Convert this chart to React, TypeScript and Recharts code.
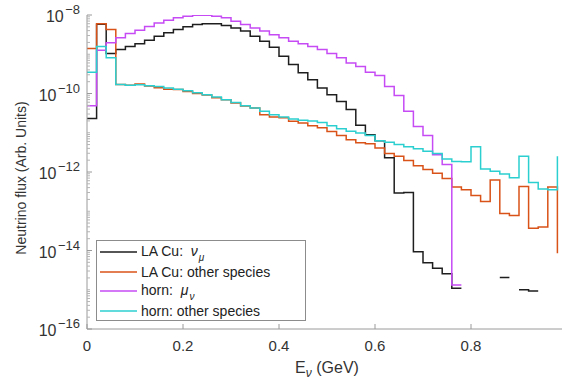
import React from 'react';
import { LineChart, Line, XAxis, YAxis, Legend } from 'recharts';

// Histogram bins: 0.02 GeV wide, left edges 0 ... 0.98 GeV
const binWidthGeV = 0.02;

// LA Cu: nu_mu
const laCuNuMu: (number | null)[] = [
  2.3e-11, 5.8e-9, 1.05e-9, 1.32e-9, 1.58e-9, 1.86e-9, 2.29e-9, 2.88e-9, 3.55e-9, 4.27e-9,
  5.0e-9, 5.75e-9, 6.0e-9, 6.0e-9, 5.37e-9, 4.68e-9, 3.89e-9, 2.88e-9, 2.14e-9, 1.51e-9,
  8.9e-10, 5.5e-10, 3.39e-10, 2.24e-10, 1.38e-10, 9.3e-11, 6.3e-11, 3.9e-11, 1.55e-11, 8.9e-12,
  6.3e-12, 2.3e-12, 2.9e-13, 3.0e-13, 9.3e-15, 4.9e-15, 3.55e-15, 2.57e-15, 1.1e-15, null,
  null, null, null, 2.04e-15, null, 1.0e-15, 9.3e-16, null, null, null,
];

// LA Cu: other species
const laCuOther: (number | null)[] = [
  1.41e-9, 6.0e-9, 4.27e-9, 1.7e-10, 1.62e-10, 1.74e-10, 1.55e-10, 1.41e-10, 1.29e-10, 1.26e-10,
  1.12e-10, 1.0e-10, 9.1e-11, 7.8e-11, 6.9e-11, 5.75e-11, 4.8e-11, 4.27e-11, 2.88e-11, 2.51e-11,
  2.4e-11, 1.95e-11, 1.78e-11, 1.51e-11, 1.35e-11, 1.07e-11, 8.5e-12, 6.6e-12, 5.6e-12, 5.25e-12,
  4.07e-12, 2.95e-12, 2.51e-12, 1.95e-12, 1.45e-12, 1.15e-12, 9.3e-13, 6.8e-13, 4.17e-13, 3.55e-13,
  2.51e-13, 1.78e-13, 6.3e-13, 8.7e-14, 7.8e-14, 4.27e-13, 3.7e-14, 3.98e-14, 4.17e-13, 8.5e-15,
];

// horn: mu_nu
const hornMuNu: (number | null)[] = [
  4.9e-11, 1.26e-9, 1.95e-9, 2.63e-9, 3.39e-9, 4.07e-9, 5.13e-9, 6.3e-9, 7.4e-9, 8.5e-9,
  9.3e-9, 9.8e-9, 9.8e-9, 9.3e-9, 8.5e-9, 6.9e-9, 5.75e-9, 4.68e-9, 3.89e-9, 3.16e-9,
  2.63e-9, 2.14e-9, 1.86e-9, 1.58e-9, 1.32e-9, 1.05e-9, 8.1e-10, 6.0e-10, 4.9e-10, 3.47e-10,
  2.88e-10, 1.51e-10, 8.9e-11, 3.55e-11, 1.45e-11, 8.5e-12, 2.75e-12, 1.55e-12, 1.32e-15, null,
  null, null, null, null, null, null, null, null, null, null,
];

// horn: other species
const hornOther: (number | null)[] = [
  3.47e-10, 1.58e-9, 8.1e-10, 1.7e-10, 1.62e-10, 1.66e-10, 1.58e-10, 1.51e-10, 1.38e-10, 1.29e-10,
  1.17e-10, 1.05e-10, 9.3e-11, 8.1e-11, 6.9e-11, 5.9e-11, 4.9e-11, 4.27e-11, 3.55e-11, 2.88e-11,
  2.51e-11, 2.24e-11, 2.09e-11, 2.0e-11, 1.82e-11, 1.51e-11, 1.26e-11, 1.1e-11, 9.8e-12, 8.5e-12,
  6.3e-12, 5.75e-12, 5.0e-12, 4.37e-12, 3.89e-12, 3.39e-12, 2.95e-12, 2.14e-12, 1.86e-12, 1.82e-12,
  4.37e-12, 1.2e-12, 1.05e-12, 8.9e-13, 7.1e-13, 2.51e-12, 5.4e-13, 3.7e-13, 3.55e-13, 2.51e-12,
];

const seriesKeys = ['laCuNuMu', 'laCuOther', 'hornMuNu', 'hornOther'];
const seriesColors = ['#1e1e1e', '#D95319', '#C64BF5', '#2CCFCF'];
const seriesLabels = [
  { prefix: 'LA Cu:  ', sym: 'ν', sub: 'μ' },
  { prefix: 'LA Cu: other species', sym: '', sub: '' },
  { prefix: 'horn:  ', sym: 'μ', sub: 'ν' },
  { prefix: 'horn: other species', sym: '', sub: '' },
];

const xTicks = [0, 0.2, 0.4, 0.6, 0.8];
const xTickLabels = ['0', '0.2', '0.4', '0.6', '0.8'];
const yMajorTicks = [1e-16, 1e-14, 1e-12, 1e-10, 1e-8];
const yTickExponents = ['\u221216', '\u221214', '\u221212', '\u221210', '\u22128'];

const FONT = '"Liberation Sans", Arial, Helvetica, sans-serif';

// stairs table: each bin drawn from its left edge to its right edge
const allSeries = [laCuNuMu, laCuOther, hornMuNu, hornOther];
const edges = laCuNuMu.map((_, i) => Math.round(i * binWidthGeV * 1000) / 1000);
const rows: Record<string, number | null>[] = [];
edges.forEach((e, i) => {
  const vals: Record<string, number | null> = {};
  seriesKeys.forEach((k, s) => (vals[k] = allSeries[s][i]));
  rows.push({ E: e, ...vals });
  if (i < edges.length - 1) rows.push({ E: edges[i + 1], ...vals });
});

// log minor ticks
const yAllTicks: number[] = [];
for (let n = -16; n <= -9; n++) {
  for (let k = 1; k <= 9; k++) yAllTicks.push(k * Math.pow(10, n));
}
yAllTicks.push(1e-8);

const AXIS = '#9a9a9a';

const YTick = (props: any) => {
  const { x, y, payload } = props;
  const lg = Math.log10(payload.value);
  const idx = yMajorTicks.findIndex((t) => Math.abs(Math.log10(t) - lg) < 1e-6);
  if (idx < 0) {
    return <line x1={x} x2={x + 3} y1={y} y2={y} stroke="#b5b5b5" strokeWidth={1} />;
  }
  return (
    <g>
      <line x1={x} x2={x + 5} y1={y} y2={y} stroke={AXIS} strokeWidth={1} />
      <text x={x - 7} y={y + 7} textAnchor="end" fontFamily={FONT} fontSize={16} fill="#333">
        10
        <tspan dx={1.5} dy={-8} fontSize={13}>
          {yTickExponents[idx]}
        </tspan>
      </text>
    </g>
  );
};

const XTick = (props: any) => {
  const { x, y, payload } = props;
  const idx = xTicks.findIndex((t) => Math.abs(t - payload.value) < 1e-9);
  return (
    <g>
      <line x1={x} x2={x} y1={y} y2={y - 5} stroke={AXIS} strokeWidth={1} />
      <text x={x} y={y + 22} textAnchor="middle" fontFamily={FONT} fontSize={15} fill="#333">
        {idx >= 0 ? xTickLabels[idx] : ''}
      </text>
    </g>
  );
};

const TopTick = (props: any) => {
  const { x, y } = props;
  return <line x1={x} x2={x} y1={y} y2={y + 5} stroke={AXIS} strokeWidth={1} />;
};

const XLabel = (props: any) => {
  const vb = props.viewBox || {};
  const cx = vb.x + vb.width / 2;
  return (
    <text x={cx} y={vb.y + 44} textAnchor="middle" fontFamily={FONT} fontSize={16} fill="#333">
      E
      <tspan dy={4} fontSize={12} fontStyle="italic">
        ν
      </tspan>
      <tspan dy={-4}> (GeV)</tspan>
    </text>
  );
};

const YLabel = (props: any) => {
  const vb = props.viewBox || {};
  const cx = vb.x + 4;
  const cy = vb.y + vb.height / 2 + 6;
  return (
    <text
      x={cx}
      y={cy}
      transform={`rotate(-90 ${cx} ${cy})`}
      textAnchor="middle"
      dominantBaseline="central"
      fontFamily={FONT}
      fontSize={14}
      fill="#333"
    >
      Neutrino flux (Arb. Units)
    </text>
  );
};

const LegendBox = () => (
  <div
    style={{
      width: 210,
      height: 81,
      boxSizing: 'border-box',
      border: '1px solid #8c8c8c',
      background: '#fff',
      padding: '1px 0 0 3px',
      fontFamily: FONT,
      fontSize: 14,
      color: '#222',
    }}
  >
    {seriesLabels.map((lab, i) => (
      <div key={i} style={{ display: 'flex', alignItems: 'center', height: 19.7 }}>
        <svg width={37} height={4} style={{ marginRight: 4, display: 'block' }}>
          <line x1={0} x2={37} y1={2} y2={2} stroke={seriesColors[i]} strokeWidth={1.6} />
        </svg>
        <span style={{ whiteSpace: 'pre', lineHeight: '18px' }}>
          {lab.prefix}
          {lab.sym ? <span style={{ fontStyle: 'italic' }}>{lab.sym}</span> : null}
          {lab.sub ? (
            <span style={{ fontSize: 10, fontStyle: 'italic', position: 'relative', top: 5, marginLeft: 1 }}>{lab.sub}</span>
          ) : null}
        </span>
      </div>
    ))}
  </div>
);

export default function App() {
  return (
    <div
      style={{
        position: 'absolute',
        left: 0,
        top: 0,
        width: 562,
        height: 379,
        overflow: 'hidden',
        background: '#fff',
      }}
    >
      <LineChart width={600} height={379} data={rows} margin={{ top: 15, right: 33, bottom: 20, left: 17 }}>
        <XAxis
          dataKey="E"
          type="number"
          domain={[0, 1]}
          ticks={xTicks}
          interval={0}
          allowDataOverflow
          stroke={AXIS}
          tickLine={false}
          tickSize={0}
          tickMargin={0}
          tick={<XTick />}
          height={30}
          label={<XLabel />}
        />
        <XAxis
          xAxisId="top"
          orientation="top"
          dataKey="E"
          type="number"
          domain={[0, 1]}
          ticks={xTicks}
          interval={0}
          allowDataOverflow
          stroke={AXIS}
          tickLine={false}
          tickSize={0}
          tickMargin={0}
          tick={<TopTick />}
          height={0}
        />
        <YAxis
          scale="log"
          type="number"
          domain={[1e-16, 1e-8]}
          ticks={yAllTicks}
          interval={0}
          allowDataOverflow
          stroke={AXIS}
          tickLine={false}
          tickSize={0}
          tickMargin={0}
          tick={<YTick />}
          width={70}
          label={<YLabel />}
        />
        <Legend
          layout="vertical"
          align="center"
          verticalAlign="middle"
          content={() => <LegendBox />}
          wrapperStyle={{ left: 96, top: 240, width: 210, height: 81 }}
        />
        {seriesKeys.map((k, i) => (
          <Line
            key={k}
            dataKey={k}
            type="linear"
            stroke={seriesColors[i]}
            strokeWidth={1.5}
            dot={false}
            activeDot={false}
            connectNulls={false}
            isAnimationActive={false}
          />
        ))}
      </LineChart>
    </div>
  );
}
